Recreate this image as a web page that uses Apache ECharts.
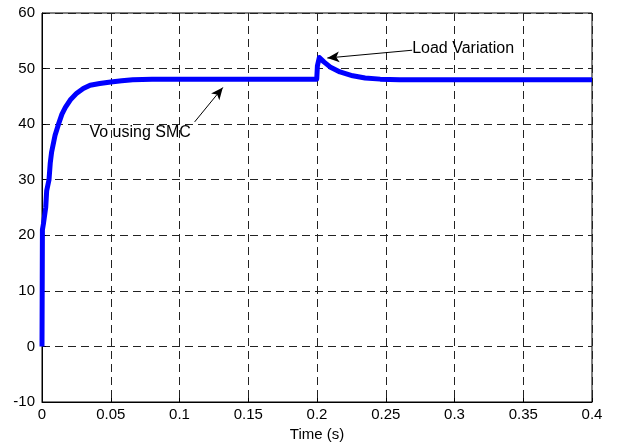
<!DOCTYPE html>
<html>
<head>
<meta charset="utf-8">
<script src="https://cdn.jsdelivr.net/npm/echarts@6/dist/echarts.min.js"></script>
<style>html,body{margin:0;padding:0;background:#fff;}#c{width:620px;height:448px;}</style>
</head>
<body>
<div id="c"></div>
<script>
// Data
var timeS = [0, 0.0003, 0.001, 0.0027, 0.0034, 0.0051, 0.006, 0.007, 0.0095, 0.012, 0.0145, 0.017, 0.021, 0.025, 0.03, 0.035, 0.042, 0.05, 0.058, 0.066, 0.08, 0.1, 0.15, 0.1998, 0.2003, 0.2017, 0.205, 0.2095, 0.2167, 0.226, 0.235, 0.246, 0.26, 0.3, 0.35, 0.4];
var voSMC = [0, 21, 22, 25, 28, 30, 33, 35, 38, 40, 41.8, 43, 44.5, 45.5, 46.4, 47, 47.3, 47.6, 47.8, 48, 48.1, 48.1, 48.1, 48.1, 50.5, 52, 51.2, 50.3, 49.4, 48.7, 48.3, 48.1, 48.0, 48.0, 48.0, 48.0];
var xTicks = [0, 0.05, 0.1, 0.15, 0.2, 0.25, 0.3, 0.35, 0.4];
var yTicks = [-10, 0, 10, 20, 30, 40, 50, 60];
var annoSMC = {text: 'Vo using SMC', at: [0.0345, 38.5], from: [0.111, 40.4], to: [0.1315, 46.6]};
var annoLoad = {text: 'Load Variation', at: [0.2692, 53.6], from: [0.2692, 53.3], to: [0.2075, 51.9]};

var chart = echarts.init(document.getElementById('c'), null, {renderer: 'canvas'});
var font = 'Liberation Sans, Arial, sans-serif';
var dash = {color: '#222', width: 1, type: [8, 5]};
var pts = timeS.map(function (t, i) { return [t, voSMC[i]]; });

chart.setOption({
  backgroundColor: '#fff',
  animation: false,
  grid: {left: 42, right: 28, top: 13, bottom: 46, show: true, borderColor: '#000', borderWidth: 1},
  xAxis: {
    type: 'value', min: xTicks[0], max: xTicks[xTicks.length - 1], interval: 0.05,
    name: 'Time (s)', nameLocation: 'middle', nameGap: 23,
    nameTextStyle: {fontFamily: font, fontSize: 15, color: '#000'},
    axisLine: {onZero: false, lineStyle: {color: '#000', width: 1}},
    axisTick: {inside: true, length: 4, lineStyle: {color: '#000'}},
    axisLabel: {fontFamily: font, fontSize: 15, color: '#000', margin: 5,
      formatter: function (v) { return String(Math.round(v * 100) / 100); }},
    splitLine: {show: true, lineStyle: dash}
  },
  yAxis: {
    type: 'value', min: yTicks[0], max: yTicks[yTicks.length - 1], interval: 10,
    axisLine: {show: true, onZero: false, lineStyle: {color: '#000', width: 1}},
    axisTick: {show: true, inside: true, length: 4, lineStyle: {color: '#000'}},
    axisLabel: {fontFamily: font, fontSize: 15, color: '#000', margin: 7},
    splitLine: {show: true, lineStyle: dash}
  },
  series: [{
    type: 'line', data: pts, showSymbol: false, smooth: false,
    lineStyle: {color: '#0000ff', width: 5, join: 'round'},
    markLine: {
      silent: true, symbol: ['none', 'arrow'], symbolSize: [8, 12],
      lineStyle: {color: '#000', width: 1, type: 'solid'},
      label: {show: false},
      data: [
        [{coord: annoSMC.from}, {coord: annoSMC.to}],
        [{coord: annoLoad.from}, {coord: annoLoad.to}]
      ]
    }
  }]
});

function txt(a, align) {
  var p = chart.convertToPixel({gridIndex: 0}, a.at);
  return {type: 'text', x: p[0], y: p[1], z: 10,
    style: {text: a.text, font: '16px ' + font, fill: '#000', align: align, verticalAlign: 'middle'}};
}
chart.setOption({graphic: [txt(annoSMC, 'left'), txt(annoLoad, 'left')]});
</script>
</body>
</html>
